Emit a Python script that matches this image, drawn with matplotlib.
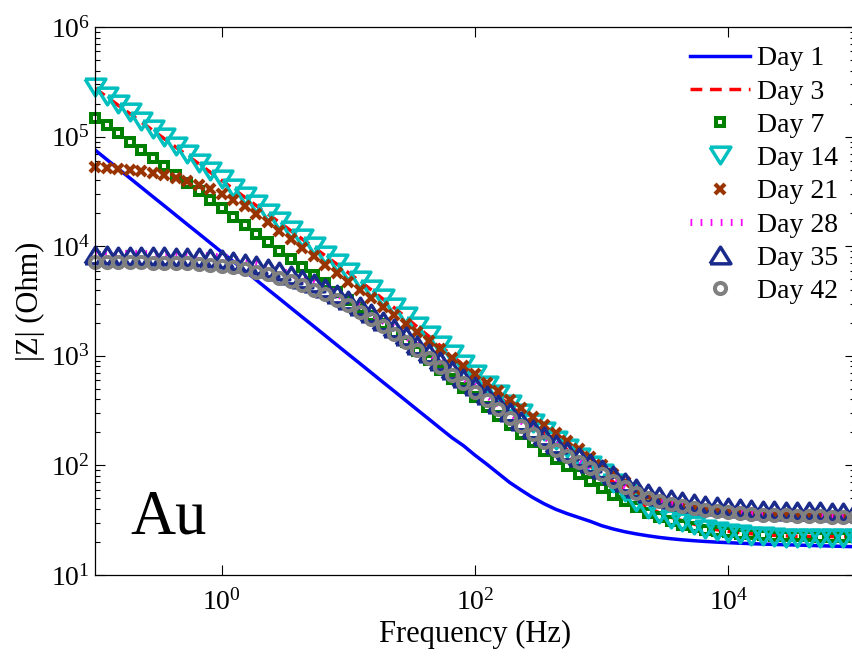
import numpy as np
import matplotlib
matplotlib.use('Agg')
import matplotlib.pyplot as plt
from matplotlib.ticker import LogLocator, NullLocator, FixedLocator

plt.rcParams['font.family'] = ['Liberation Serif', 'DejaVu Serif']
plt.rcParams['mathtext.fontset'] = 'stix'

# frequency sweep: 0.1 Hz .. 100 kHz, 11 points per decade
freq = np.logspace(-1, 5, 67)

# log10(|Z|), one list per day
logz_day1 = [4.878, 4.793, 4.708, 4.624, 4.539, 4.454, 4.370, 4.285, 4.200, 4.116,
             4.031, 3.946, 3.861, 3.777, 3.692, 3.607, 3.523, 3.438, 3.353, 3.269,
             3.184, 3.099, 3.014, 2.930, 2.845, 2.760, 2.676, 2.591, 2.506, 2.422,
             2.337, 2.253, 2.180, 2.093, 2.013, 1.929, 1.845, 1.775, 1.708, 1.650,
             1.600, 1.560, 1.525, 1.490, 1.450, 1.420, 1.395, 1.375, 1.358, 1.343,
             1.331, 1.321, 1.313, 1.306, 1.300, 1.295, 1.290, 1.286, 1.282, 1.279,
             1.276, 1.273, 1.270, 1.267, 1.264, 1.261, 1.258]
logz_day3 = [5.440, 5.364, 5.287, 5.211, 5.134, 5.058, 4.982, 4.905, 4.829, 4.753,
             4.676, 4.600, 4.524, 4.447, 4.371, 4.295, 4.218, 4.142, 4.065, 3.989,
             3.913, 3.836, 3.758, 3.680, 3.601, 3.518, 3.437, 3.350, 3.262, 3.177,
             3.090, 3.002, 2.912, 2.820, 2.728, 2.638, 2.550, 2.464, 2.380, 2.300,
             2.222, 2.145, 2.070, 1.995, 1.920, 1.850, 1.765, 1.680, 1.618, 1.568,
             1.528, 1.495, 1.465, 1.435, 1.413, 1.398, 1.387, 1.376, 1.368, 1.362,
             1.357, 1.354, 1.352, 1.351, 1.350, 1.350, 1.350]
logz_day7 = [5.170, 5.105, 5.030, 4.955, 4.880, 4.805, 4.730, 4.650, 4.575, 4.500,
             4.425, 4.345, 4.270, 4.190, 4.115, 4.040, 3.960, 3.885, 3.810, 3.735,
             3.660, 3.585, 3.510, 3.440, 3.365, 3.290, 3.210, 3.130, 3.045, 2.960,
             2.875, 2.790, 2.705, 2.620, 2.535, 2.450, 2.370, 2.290, 2.210, 2.135,
             2.060, 1.990, 1.920, 1.855, 1.790, 1.730, 1.672, 1.618, 1.570, 1.528,
             1.490, 1.460, 1.435, 1.415, 1.400, 1.388, 1.378, 1.370, 1.364, 1.359,
             1.356, 1.354, 1.352, 1.351, 1.350, 1.350, 1.350]
logz_day14 = [5.450, 5.374, 5.297, 5.221, 5.144, 5.068, 4.992, 4.915, 4.839, 4.763,
              4.686, 4.610, 4.534, 4.457, 4.381, 4.305, 4.228, 4.152, 4.075, 3.999,
              3.923, 3.846, 3.768, 3.690, 3.611, 3.528, 3.447, 3.360, 3.272, 3.187,
              3.100, 3.012, 2.922, 2.830, 2.738, 2.648, 2.560, 2.474, 2.390, 2.310,
              2.232, 2.155, 2.080, 2.005, 1.930, 1.842, 1.755, 1.667, 1.605, 1.555,
              1.515, 1.482, 1.452, 1.420, 1.398, 1.383, 1.372, 1.360, 1.352, 1.346,
              1.342, 1.340, 1.338, 1.337, 1.336, 1.335, 1.335]
logz_day21 = [4.725, 4.716, 4.707, 4.697, 4.686, 4.670, 4.652, 4.625, 4.593, 4.558,
              4.520, 4.476, 4.425, 4.366, 4.298, 4.222, 4.140, 4.062, 3.985, 3.908,
              3.831, 3.754, 3.677, 3.600, 3.523, 3.446, 3.369, 3.292, 3.215, 3.138,
              3.061, 2.984, 2.907, 2.830, 2.753, 2.676, 2.599, 2.522, 2.445, 2.370,
              2.295, 2.222, 2.150, 2.075, 2.000, 1.925, 1.850, 1.780, 1.725, 1.682,
              1.652, 1.628, 1.610, 1.597, 1.586, 1.577, 1.569, 1.562, 1.556, 1.551,
              1.547, 1.544, 1.541, 1.539, 1.537, 1.535, 1.534]
logz_day28 = [3.936, 3.936, 3.935, 3.934, 3.933, 3.931, 3.929, 3.926, 3.923, 3.918,
              3.911, 3.900, 3.884, 3.864, 3.840, 3.812, 3.780, 3.745, 3.706, 3.665,
              3.620, 3.562, 3.510, 3.450, 3.386, 3.320, 3.250, 3.178, 3.103, 3.027,
              2.950, 2.873, 2.798, 2.722, 2.644, 2.564, 2.485, 2.407, 2.335, 2.265,
              2.195, 2.110, 2.050, 1.990, 1.935, 1.875, 1.815, 1.760, 1.720, 1.690,
              1.665, 1.643, 1.625, 1.610, 1.598, 1.588, 1.580, 1.573, 1.567, 1.562,
              1.558, 1.555, 1.552, 1.550, 1.548, 1.546, 1.545]
logz_day35 = [3.916, 3.916, 3.915, 3.914, 3.913, 3.911, 3.909, 3.906, 3.903, 3.898,
              3.891, 3.882, 3.868, 3.850, 3.828, 3.802, 3.772, 3.740, 3.703, 3.663,
              3.620, 3.562, 3.510, 3.450, 3.386, 3.320, 3.250, 3.178, 3.103, 3.027,
              2.950, 2.873, 2.798, 2.722, 2.644, 2.564, 2.485, 2.407, 2.335, 2.265,
              2.195, 2.135, 2.080, 2.025, 1.970, 1.910, 1.845, 1.790, 1.750, 1.720,
              1.695, 1.673, 1.655, 1.640, 1.628, 1.618, 1.610, 1.603, 1.597, 1.592,
              1.588, 1.585, 1.582, 1.580, 1.578, 1.576, 1.575]
logz_day42 = [3.856, 3.856, 3.855, 3.854, 3.853, 3.851, 3.849, 3.846, 3.843, 3.838,
              3.831, 3.822, 3.808, 3.790, 3.768, 3.742, 3.712, 3.680, 3.643, 3.603,
              3.560, 3.512, 3.460, 3.400, 3.336, 3.270, 3.200, 3.128, 3.053, 2.977,
              2.900, 2.823, 2.748, 2.672, 2.594, 2.514, 2.435, 2.357, 2.285, 2.215,
              2.145, 2.085, 2.030, 1.975, 1.920, 1.860, 1.800, 1.745, 1.705, 1.675,
              1.650, 1.628, 1.610, 1.595, 1.583, 1.573, 1.565, 1.558, 1.552, 1.547,
              1.543, 1.540, 1.537, 1.535, 1.533, 1.531, 1.530]

# MATLAB-like flat triangles
tri_down = [(-1, 0.8), (1, 0.8), (0, -0.8), (-1, 0.8)]
tri_up = [(-1, -0.8), (1, -0.8), (0, 0.8), (-1, -0.8)]

fig = plt.figure(figsize=(8.53, 6.58), dpi=100)
ax = fig.add_axes([95 / 853, 1 - 575 / 658, 760 / 853, 548 / 658])

ax.plot(freq, 10 ** np.array(logz_day1), '-', color=(0, 0, 1), lw=2.5, label='Day 1')
ax.plot(freq, 10 ** np.array(logz_day3), '--', color=(1, 0, 0), lw=2.5,
        dashes=(3.4, 2.2), label='Day 3')
ax.plot(freq, 10 ** np.array(logz_day7), 's', color=(0, 0.5, 0), mfc='none',
        ms=5.5, mew=2.9, clip_on=False, label='Day 7')
ax.plot(freq, 10 ** np.array(logz_day14), linestyle='none', marker=tri_down,
        color=(0, 0.75, 0.75), mfc='none', ms=15, mew=2.5, clip_on=False, label='Day 14')
ax.plot(freq, 10 ** np.array(logz_day21), 'x', color=(0.6, 0.2, 0), ms=7.5,
        mew=3.0, clip_on=False, label='Day 21')
ax.plot(freq, 10 ** np.array(logz_day28), ':', color=(1, 0, 1), lw=5,
        dashes=(0.25, 1.2), dash_capstyle='butt', label='Day 28')
ax.plot(freq, 10 ** np.array(logz_day35), linestyle='none', marker=tri_up,
        color=(0.1, 0.17, 0.55), mfc='none', ms=15, mew=2.5, clip_on=False, label='Day 35')
ax.plot(freq, 10 ** np.array(logz_day42), 'o', color=(0.5, 0.5, 0.5), mfc='none',
        ms=8, mew=2.9, clip_on=False, label='Day 42')

ax.set_xscale('log')
ax.set_yscale('log')
ax.set_xlim(0.1, 1e5)
ax.set_ylim(10, 1e6)

ax.xaxis.set_major_locator(FixedLocator([1, 1e2, 1e4]))
ax.xaxis.set_minor_locator(NullLocator())
ax.yaxis.set_major_locator(LogLocator(base=10, numticks=10))
ax.yaxis.set_minor_locator(LogLocator(base=10, subs=np.arange(2, 10), numticks=20))

ax.tick_params(which='both', direction='in', top=True, right=True, labelsize=20, width=0.8)
ax.tick_params(which='major', length=7)
ax.tick_params(which='minor', length=3.5)
ax.tick_params(axis='x', which='major', pad=10)
for sp in ax.spines.values():
    sp.set_linewidth(0.9)

ax.set_xlabel('Frequency (Hz)', fontsize=22, labelpad=3)
ax.set_ylabel('|Z| (Ohm)', fontsize=22, labelpad=4)

fig.text(130 / 853, 1 - 533 / 658, 'Au', fontsize=45, va='baseline', ha='left')

leg = ax.legend(loc='upper left', bbox_to_anchor=(690 / 853, 1 - 46 / 658),
                bbox_transform=fig.transFigure, frameon=False, fontsize=20,
                numpoints=1, handlelength=2.15, handletextpad=0.25, labelspacing=0.28,
                borderpad=0, borderaxespad=0)

fig.savefig('out.png', dpi=100)
